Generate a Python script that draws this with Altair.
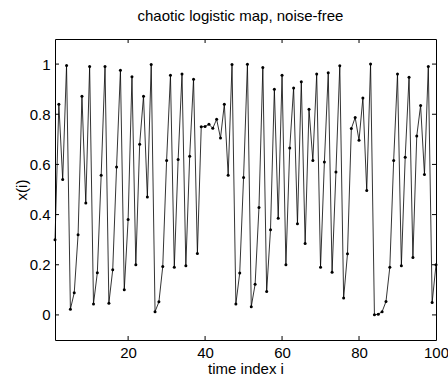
import altair as alt
import pandas as pd

# time index
idx = list(range(1, 101))
# values
xvals = [
    0.30, 0.84, 0.54, 0.994, 0.023, 0.088, 0.32, 0.872, 0.446, 0.99,
    0.044, 0.168, 0.557, 0.99, 0.047, 0.18, 0.59, 0.975, 0.10, 0.38,
    0.95, 0.20, 0.68, 0.872, 0.47, 0.998, 0.013, 0.052, 0.193, 0.616,
    0.955, 0.19, 0.62, 0.96, 0.196, 0.633, 0.94, 0.245, 0.75, 0.751,
    0.76, 0.744, 0.78, 0.705, 0.84, 0.557, 0.998, 0.044, 0.167, 0.548,
    0.999, 0.033, 0.122, 0.428, 0.986, 0.093, 0.34, 0.90, 0.385, 0.955,
    0.20, 0.665, 0.905, 0.363, 0.93, 0.285, 0.82, 0.616, 0.96, 0.19,
    0.61, 0.965, 0.17, 0.57, 0.993, 0.067, 0.244, 0.743, 0.787, 0.696,
    0.865, 0.496, 1.0, 0.0005, 0.003, 0.013, 0.053, 0.19, 0.616, 0.96,
    0.196, 0.629, 0.948, 0.229, 0.713, 0.835, 0.56, 0.99, 0.05, 0.20,
]
xtick_vals = [20, 40, 60, 80]
ytick_vals = [0, 0.2, 0.4, 0.6, 0.8, 1]

W, H = 381, 301
FONT = "Liberation Sans"

df = pd.DataFrame({"i": idx, "x": xvals})
xt = pd.DataFrame({"i": xtick_vals})
yt = pd.DataFrame({"x": ytick_vals})

xscale = alt.Scale(domain=[1, 100], nice=False, zero=False)
yscale = alt.Scale(domain=[-0.1, 1.1], nice=False, zero=False)

xenc = alt.X("i:Q", scale=xscale,
             axis=alt.Axis(values=[20, 40, 60, 80, 100], title="time index i",
                           labelFlush=False, titleY=33, titleBaseline="alphabetic"))
yenc = alt.Y("x:Q", scale=yscale,
             axis=alt.Axis(values=ytick_vals, format="~g", title="x(i)",
                           titleX=-34, titleY=H / 2, titleBaseline="middle",
                           titleAlign="center", titleAngle=270))

line = alt.Chart(df).mark_line(color="black", strokeWidth=0.8).encode(x=xenc, y=yenc)
pts = alt.Chart(df).mark_point(filled=True, color="black", size=9, opacity=1).encode(x=xenc, y=yenc)

tb = alt.Chart(xt).mark_rule(color="black", strokeWidth=1).encode(
    x=alt.X("i:Q", scale=xscale), y=alt.value(H), y2=alt.value(H - 4))
tt = alt.Chart(xt).mark_rule(color="black", strokeWidth=1).encode(
    x=alt.X("i:Q", scale=xscale), y=alt.value(0), y2=alt.value(4))
tl = alt.Chart(yt).mark_rule(color="black", strokeWidth=1).encode(
    y=alt.Y("x:Q", scale=yscale), x=alt.value(0), x2=alt.value(4))
tr = alt.Chart(yt).mark_rule(color="black", strokeWidth=1).encode(
    y=alt.Y("x:Q", scale=yscale), x=alt.value(W), x2=alt.value(W - 4))

chart = alt.layer(line, pts, tb, tt, tl, tr).properties(
    width=W, height=H,
    title=alt.TitleParams("chaotic logistic map, noise-free", anchor="middle",
                          fontSize=15, fontWeight="normal", font=FONT,
                          color="black", offset=3, baseline="alphabetic", dx=-5),
    autosize=alt.AutoSizeParams(type="none"),
    padding={"left": 55, "top": 39, "right": 12, "bottom": 36},
    background="white",
).configure_axis(
    labelFont=FONT, titleFont=FONT, labelFontSize=15, titleFontSize=15,
    labelColor="black", titleColor="black", titleFontWeight="normal",
    ticks=False, domain=False, grid=False, labelPadding=5,
).configure_view(stroke="black", strokeWidth=1)

chart.save("out.html", embed_options={"renderer": "svg", "actions": False})
